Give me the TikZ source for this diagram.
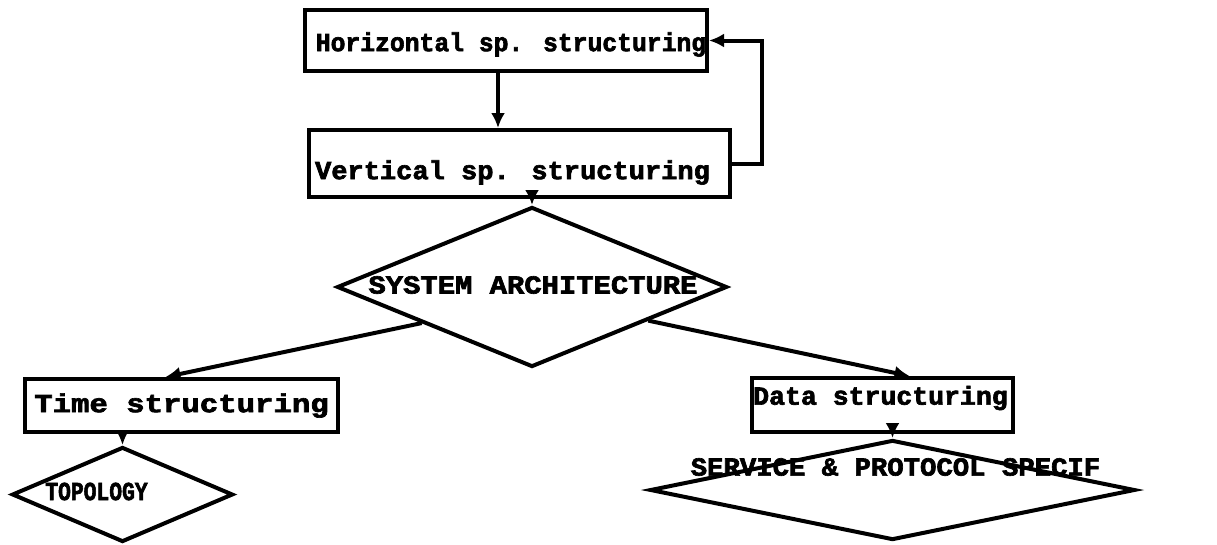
\documentclass[tikz,border=0pt]{standalone}
\usepackage{fontspec}
\usepackage{graphicx}
\newfontfamily\tw[FakeBold=2.5]{Liberation Mono Bold}
\usetikzlibrary{shapes.geometric,arrows.meta,calc}
\newcommand\sx[2]{\scalebox{#1}[1]{#2}}
\tikzset{
  lw/.style={line width=4pt},
  boxnode/.style={draw, lw, rectangle, inner sep=0pt},
  dia/.style={draw, lw, shape=diamond, inner sep=0pt},
  txt/.style={font=\tw\fontsize{26pt}{30pt}\selectfont, inner sep=0pt},
  arr/.style={lw, -{Latex[length=15pt,width=14pt]}},
}
\begin{document}
\begin{tikzpicture}[x=1pt,y=-1pt]
\useasboundingbox (0,0) rectangle (1217,544);

\node[boxnode, minimum width=402pt, minimum height=61pt,
  label={[txt,xshift=5pt,yshift=-4pt]center:\sx{0.95}{Horizontal sp. structuring}}] (h) at (506,40.5) {};
\node[boxnode, minimum width=421pt, minimum height=67pt,
  label={[txt,xshift=-7pt,yshift=-9pt]center:\sx{1.04}{Vertical sp. structuring}}] (v) at (519.5,163.5) {};
\node[dia, minimum width=390pt, minimum height=160pt,
  label={[txt,xshift=1pt,yshift=2pt]center:\sx{1.11}{SYSTEM ARCHITECTURE}}] (sa) at (532,287) {};
\node[boxnode, minimum width=313pt, minimum height=53pt,
  label={[txt]center:\sx{1.18}{Time structuring}}] (tm) at (181.5,405.5) {};
\node[boxnode, minimum width=261pt, minimum height=54pt,
  label={[txt,xshift=-2pt,yshift=7pt]center:\sx{1.02}{Data structuring}}] (dt) at (882.5,405) {};
\node[dia, minimum width=221pt, minimum height=95pt,
  label={[txt,xshift=-26pt,yshift=3pt]center:\sx{0.82}{TOPOLOGY}}] (tp) at (122.5,494.5) {};
\node[dia, minimum width=485pt, minimum height=100pt,
  label={[txt,xshift=3pt,yshift=23pt]center:\sx{1.05}{SERVICE \& PROTOCOL SPECIF}}] (sv) at (892.5,490) {};

\coordinate (hs) at ([xshift=-8pt]h.south);
\draw[arr] (hs) -- (hs |- v.north);
\draw[arr] (v.east) -- ++(30,0) |- (h.east);
\draw[arr] (sa.north |- v.south) -- (sa.north);
\draw[arr] ($(sa.west)!0.44!(sa.south)$) -- ([xshift=-16pt]tm.north);
\draw[arr] ($(sa.east)!0.41!(sa.south)$) -- ([xshift=27pt]dt.north);
\draw[arr] (tp.north |- tm.south) -- (tp.north);
\draw[arr] (sv.north |- dt.south) -- (sv.north);
\end{tikzpicture}
\end{document}
